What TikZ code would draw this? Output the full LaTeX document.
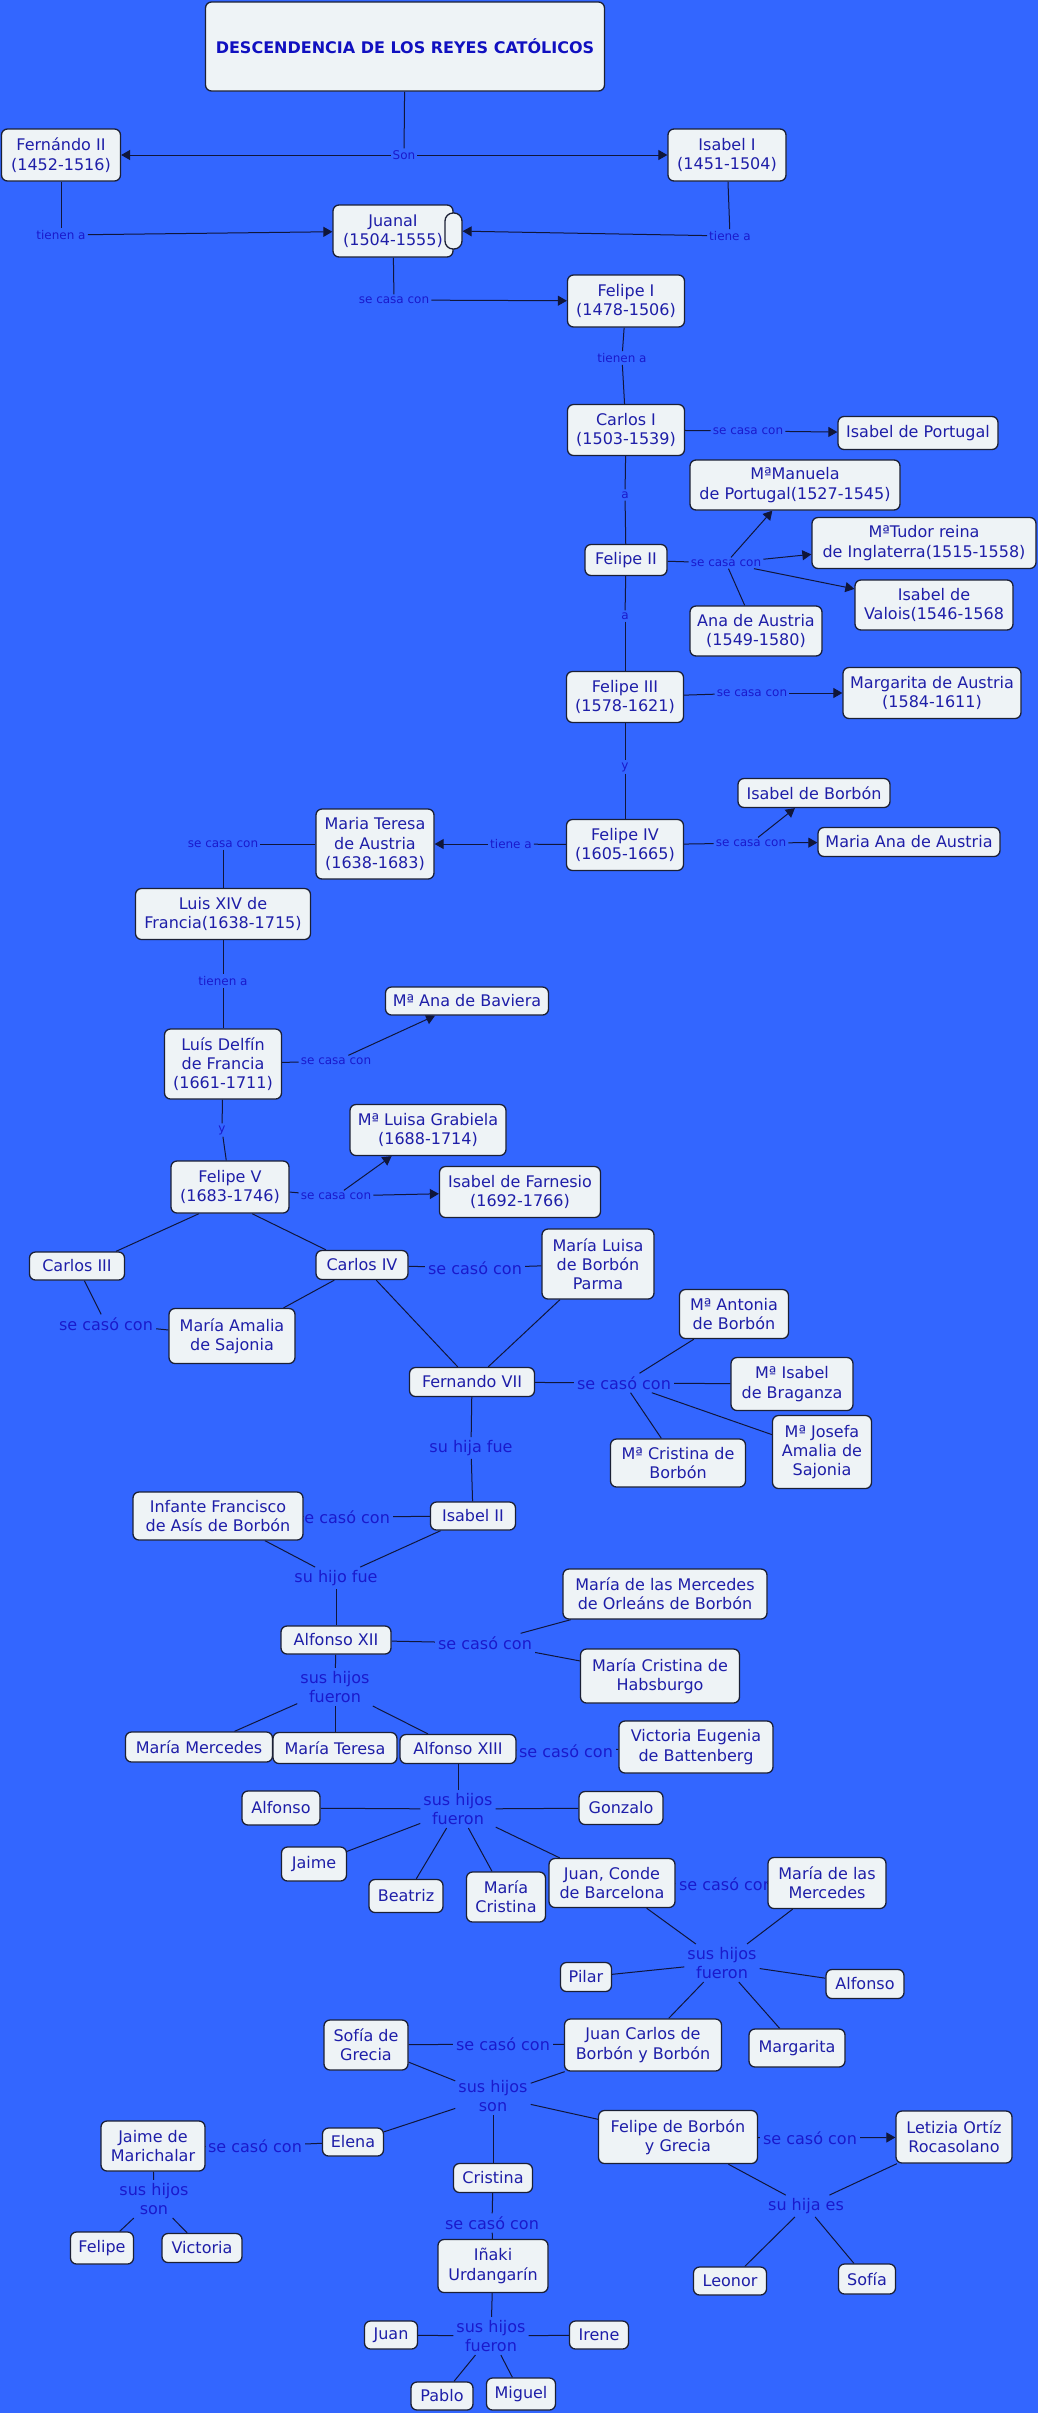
\documentclass[tikz,border=0pt]{standalone}
\usepackage{fontspec}
\setmainfont{DejaVu Sans}
\usetikzlibrary{arrows.meta}
\definecolor{bgc}{HTML}{3366FF}
\definecolor{nfill}{HTML}{EEF3F6}
\definecolor{nborder}{HTML}{1B2035}
\definecolor{ntext}{HTML}{1E1EA8}
\definecolor{ltext}{HTML}{1A1ACC}
\definecolor{ttext}{HTML}{1010C0}
\definecolor{lcol}{HTML}{10163A}
\newcommand\cmfont{\fontsize{16}{19.3}\selectfont}
\newcommand\cmsmall{\fontsize{12}{14}\selectfont}
\newcommand\cmtitle{\fontsize{16}{19}\selectfont\bfseries}
\pgfdeclarelayer{bglayer}
\pgfsetlayers{bglayer,main}
\tikzset{
  concept/.style={draw=nborder, line width=1.3pt, fill=nfill, rounded corners=6pt, text=ntext, font=\cmfont, align=center, inner sep=1pt},
  wh/.style 2 args={minimum width=#1, minimum height=#2},
  lb/.style={text=ltext, font=\cmfont, align=center, inner sep=3pt},
  sl/.style={text=ltext, font=\cmsmall, align=center, inner sep=2pt},
  ln/.style={draw=lcol, line width=1pt},
  ar/.style={ln, -{Triangle[length=9pt,width=10pt]}}
}
\begin{document}
\begin{tikzpicture}[x=1pt,y=-1pt]
\useasboundingbox (0,0) rectangle (1038,2413);
% ---------- concepts ----------
\node[concept, wh={399}{89}, font=\cmtitle, text=ttext] (title) at (405,46.5) {DESCENDENCIA DE LOS REYES CATÓLICOS};
\node[concept, wh={119}{52}] (fII) at (61,155) {Fernándo II\\(1452-1516)};
\node[concept, wh={118}{52}] (isI) at (727,155) {Isabel I\\(1451-1504)};
\node[concept, wh={120}{52}] (juana) at (393,231) {JuanaI\\(1504-1555)};
\node[concept, wh={17}{36}, rounded corners=8pt] (jtab) at (453.5,231) {};
\node[concept, wh={117}{52}] (felI) at (626,301) {Felipe I\\(1478-1506)};
\node[concept, wh={117}{51}] (carI) at (626,430) {Carlos I\\(1503-1539)};
\node[concept, wh={160}{33}] (isPor) at (918,433) {Isabel de Portugal};
\node[concept, wh={82}{31}] (felII) at (626,560) {Felipe II};
\node[concept, wh={210}{50}] (manuela) at (795,485) {MªManuela\\de Portugal(1527-1545)};
\node[concept, wh={224}{51}] (tudor) at (924,543) {MªTudor reina\\de Inglaterra(1515-1558)};
\node[concept, wh={158}{50}] (valois) at (934,605) {Isabel de\\Valois(1546-1568};
\node[concept, wh={132}{50}] (anaA) at (756,631) {Ana de Austria\\(1549-1580)};
\node[concept, wh={117}{51}] (felIII) at (625,697) {Felipe III\\(1578-1621)};
\node[concept, wh={178}{51}] (marg) at (932,693) {Margarita de Austria\\(1584-1611)};
\node[concept, wh={152}{29}] (isBor) at (814,793) {Isabel de Borbón};
\node[concept, wh={117}{51}] (felIV) at (625,845) {Felipe IV\\(1605-1665)};
\node[concept, wh={182}{29}] (mAna) at (909,842) {Maria Ana de Austria};
\node[concept, wh={118}{70}] (mTer) at (375,844) {Maria Teresa\\de Austria\\(1638-1683)};
\node[concept, wh={175}{51}] (luisXIV) at (223,914) {Luis XIV de\\Francia(1638-1715)};
\node[concept, wh={163}{28}] (baviera) at (467,1001) {Mª Ana de Baviera};
\node[concept, wh={117}{70}] (delfin) at (223,1064) {Luís Delfín\\de Francia\\(1661-1711)};
\node[concept, wh={156}{51}] (luisa) at (428,1130) {Mª Luisa Grabiela\\(1688-1714)};
\node[concept, wh={161}{51}] (farnesio) at (520,1192) {Isabel de Farnesio\\(1692-1766)};
\node[concept, wh={118}{52}] (felV) at (230,1187) {Felipe V\\(1683-1746)};
\node[concept, wh={95}{28}] (cIII) at (77,1266) {Carlos III};
\node[concept, wh={92}{29}] (cIV) at (362,1265) {Carlos IV};
\node[concept, wh={126}{55}] (amalia) at (232,1336) {María Amalia\\de Sajonia};
\node[concept, wh={112}{70}] (mLuisa) at (598,1264) {María Luisa\\de Borbón\\Parma};
\node[concept, wh={125}{29}] (fVII) at (472,1382) {Fernando VII};
\node[concept, wh={109}{49}] (antonia) at (734,1314) {Mª Antonia\\de Borbón};
\node[concept, wh={122}{53}] (braganza) at (792,1384) {Mª Isabel\\de Braganza};
\node[concept, wh={99}{73}] (josefa) at (822,1452) {Mª Josefa\\Amalia de\\Sajonia};
\node[concept, wh={135}{48}] (mCristina) at (678,1463) {Mª Cristina de\\Borbón};
\node[concept, wh={85}{28}] (isII) at (473,1516) {Isabel II};
\node[concept, wh={170}{48}] (infante) at (218,1516) {Infante Francisco\\de Asís de Borbón};
\node[concept, wh={204}{50}] (mercOrl) at (665,1594) {María de las Mercedes\\de Orleáns de Borbón};
\node[concept, wh={110}{28}] (aXII) at (336,1640) {Alfonso XII};
\node[concept, wh={159}{54}] (habs) at (660,1676) {María Cristina de\\Habsburgo};
\node[concept, wh={147}{30}] (mMerc) at (199,1747) {María Mercedes};
\node[concept, wh={124}{31}] (mTeresa) at (335,1748) {María Teresa};
\node[concept, wh={116}{29}] (aXIII) at (458,1749) {Alfonso XIII};
\node[concept, wh={154}{52}] (victE) at (696,1747) {Victoria Eugenia\\de Battenberg};
\node[concept, wh={78}{34}] (alfonso) at (281,1808) {Alfonso};
\node[concept, wh={84}{33}] (gonzalo) at (621,1808) {Gonzalo};
\node[concept, wh={65}{34}] (jaime) at (314,1864) {Jaime};
\node[concept, wh={74}{33}] (beatriz) at (406,1896) {Beatriz};
\node[concept, wh={79}{50}] (mCris2) at (506,1897) {María\\Cristina};
\node[concept, wh={126}{49}] (juanC) at (612,1883) {Juan, Conde\\de Barcelona};
\node[concept, wh={118}{51}] (merc2) at (827,1883) {María de las\\Mercedes};
\node[concept, wh={51}{29}] (pilar) at (586,1977) {Pilar};
\node[concept, wh={78}{29}] (alfonso2) at (865,1984) {Alfonso};
\node[concept, wh={157}{52}] (jCarlos) at (643,2045) {Juan Carlos de\\Borbón y Borbón};
\node[concept, wh={96}{38}] (margarita) at (797,2048) {Margarita};
\node[concept, wh={84}{50}] (sofia) at (366,2045) {Sofía de\\Grecia};
\node[concept, wh={61}{28}] (elena) at (353,2142) {Elena};
\node[concept, wh={79}{29}] (cristina) at (493,2178) {Cristina};
\node[concept, wh={159}{53}] (felipeB) at (678,2137) {Felipe de Borbón\\y Grecia};
\node[concept, wh={116}{52}] (letizia) at (954,2137) {Letizia Ortíz\\Rocasolano};
\node[concept, wh={73}{28}] (leonor) at (730,2281) {Leonor};
\node[concept, wh={57}{30}] (sofia2) at (867,2279) {Sofía};
\node[concept, wh={104}{50}] (jaimeM) at (153,2146) {Jaime de\\Marichalar};
\node[concept, wh={63}{32}] (felipe3) at (102,2248) {Felipe};
\node[concept, wh={80}{29}] (victoria) at (202,2248) {Victoria};
\node[concept, wh={110}{53}] (inaki) at (493,2266) {Iñaki\\Urdangarín};
\node[concept, wh={53}{28}] (juan) at (391,2335) {Juan};
\node[concept, wh={59}{28}] (irene) at (599,2335) {Irene};
\node[concept, wh={62}{28}] (pablo) at (442,2396) {Pablo};
\node[concept, wh={69}{32}] (miguel) at (521,2394) {Miguel};
\begin{pgfonlayer}{bglayer}
\fill[bgc] (0,0) rectangle (1038,2413);
% ---------- linking phrases ----------
\node[sl] (lSon) at (404,155) {Son};
\node[sl] (lFer) at (61,235) {tienen a};
\node[sl] (lIsa) at (730,236) {tiene a};
\node[sl] (lJua) at (394,300) {se casa con};
\node[sl] (lFel1) at (622,358) {tienen a};
\node[sl] (lCar1) at (748,431) {se casa con};
\node[sl] (lCar1a) at (625,495) {a};
\node[sl] (lFel2) at (726,563) {se casa con};
\node[sl] (lFel2a) at (625,616) {a};
\node[sl] (lFel3) at (752,693) {se casa con};
\node[sl] (lFel3y) at (625,767) {y};
\node[sl] (lFel4) at (751,843) {se casa con};
\node[sl] (lFel4t) at (511,844) {tiene a};
\node[sl] (lTer) at (223,844) {se casa con};
\node[sl] (lLuis) at (223,981) {tienen a};
\node[sl] (lDel) at (336,1061) {se casa con};
\node[sl] (lDely) at (222,1130) {y};
\node[sl] (lFel5) at (336,1196) {se casa con};
\node[lb] (lC3) at (106,1324) {se casó con};
\node[lb] (lC4) at (475,1268) {se casó con};
\node[lb] (lF7) at (624,1383) {se casó con};
\node[lb] (lF7h) at (471,1448) {su hija fue};
\node[lb] (lIs2) at (343,1517) {se casó con};
\node[lb] (lIs2h) at (336,1578) {su hijo fue};
\node[lb] (lA12) at (485,1643) {se casó con};
\node[lb] (lA12h) at (335,1687) {sus hijos\\fueron};
\node[lb] (lA13) at (566,1751) {se casó con};
\node[lb] (lA13h) at (458,1809) {sus hijos\\fueron};
\node[lb] (lJC) at (726,1884) {se casó con};
\node[lb] (lJCh) at (722,1963) {sus hijos\\fueron};
\node[lb] (lJCa) at (503,2044) {se casó con};
\node[lb] (lJCah) at (493,2096) {sus hijos\\son};
\node[lb] (lEl) at (255,2146) {se casó con};
\node[lb] (lJM) at (154,2199) {sus hijos\\son};
\node[lb] (lFB) at (810,2138) {se casó con};
\node[lb] (lFBh) at (806,2206) {su hija es};
\node[lb] (lCr) at (492,2223) {se casó con};
\node[lb] (lIn) at (491,2336) {sus hijos\\fueron};
% ---------- connectors ----------
\draw[ln] (title) -- (lSon);
\draw[ar] (lSon) -- (fII);
\draw[ar] (lSon) -- (isI);
\draw[ln] (fII) -- (lFer);
\draw[ar] (lFer) -- (juana);
\draw[ln] (isI) -- (lIsa);
\draw[ar] (lIsa) -- (jtab);
\draw[ln] (juana) -- (lJua);
\draw[ar] (lJua) -- (felI);
\draw[ln] (felI) -- (lFel1);
\draw[ln] (lFel1) -- (carI);
\draw[ln] (carI) -- (lCar1);
\draw[ar] (lCar1) -- (isPor);
\draw[ln] (carI) -- (lCar1a);
\draw[ln] (lCar1a) -- (felII);
\draw[ln] (felII) -- (lFel2);
\draw[ar] (lFel2) -- (manuela);
\draw[ar] (lFel2) -- (tudor);
\draw[ar] (lFel2) -- (valois);
\draw[ln] (lFel2) -- (anaA);
\draw[ln] (felII) -- (lFel2a);
\draw[ln] (lFel2a) -- (felIII);
\draw[ln] (felIII) -- (lFel3);
\draw[ar] (lFel3) -- (marg);
\draw[ln] (felIII) -- (lFel3y);
\draw[ln] (lFel3y) -- (felIV);
\draw[ln] (felIV) -- (lFel4);
\draw[ar] (lFel4) -- (isBor);
\draw[ar] (lFel4) -- (mAna);
\draw[ln] (felIV) -- (lFel4t);
\draw[ar] (lFel4t) -- (mTer);
\draw[ln] (mTer) -- (lTer);
\draw[ln] (lTer) -- (luisXIV);
\draw[ln] (luisXIV) -- (lLuis);
\draw[ln] (lLuis) -- (delfin);
\draw[ln] (delfin) -- (lDel);
\draw[ar] (lDel) -- (baviera);
\draw[ln] (delfin) -- (lDely);
\draw[ln] (lDely) -- (felV);
\draw[ln] (felV) -- (lFel5);
\draw[ar] (lFel5) -- (luisa);
\draw[ar] (lFel5) -- (farnesio);
\draw[ln] ([xshift=-31pt]felV.south) -- ([xshift=39pt]cIII.north);
\draw[ln] ([xshift=22pt]felV.south) -- ([xshift=-36pt]cIV.north);
\draw[ln] (cIII) -- (lC3);
\draw[ln] (lC3) -- (amalia);
\draw[ln] (cIV) -- (amalia);
\draw[ln] (cIV) -- (lC4);
\draw[ln] (lC4) -- (mLuisa);
\draw[ln] (cIV) -- (fVII);
\draw[ln] (mLuisa) -- (fVII);
\draw[ln] (fVII) -- (lF7);
\draw[ln] (lF7) -- (antonia);
\draw[ln] (lF7) -- (braganza);
\draw[ln] (lF7) -- (josefa);
\draw[ln] (lF7) -- (mCristina);
\draw[ln] (fVII) -- (lF7h);
\draw[ln] (lF7h) -- (isII);
\draw[ln] (isII) -- (lIs2);
\draw[ln] (lIs2) -- (infante);
\draw[ln] (infante) -- (lIs2h);
\draw[ln] (isII) -- (lIs2h);
\draw[ln] (lIs2h) -- (aXII);
\draw[ln] (aXII) -- (lA12);
\draw[ln] (lA12) -- (mercOrl);
\draw[ln] (lA12) -- (habs);
\draw[ln] (aXII) -- (lA12h);
\draw[ln] (lA12h) -- (mMerc);
\draw[ln] (lA12h) -- (mTeresa);
\draw[ln] (lA12h) -- (aXIII);
\draw[ln] (aXIII) -- (lA13);
\draw[ln] (lA13) -- (victE);
\draw[ln] (aXIII) -- (lA13h);
\draw[ln] (lA13h) -- (alfonso);
\draw[ln] (lA13h) -- (gonzalo);
\draw[ln] (lA13h) -- (jaime);
\draw[ln] (lA13h) -- (beatriz);
\draw[ln] (lA13h) -- (mCris2);
\draw[ln] (lA13h) -- (juanC);
\draw[ln] (juanC) -- (lJC);
\draw[ln] (lJC) -- (merc2);
\draw[ln] (juanC) -- (lJCh);
\draw[ln] (merc2) -- (lJCh);
\draw[ln] (lJCh) -- (pilar);
\draw[ln] (lJCh) -- (alfonso2);
\draw[ln] (lJCh) -- (jCarlos);
\draw[ln] (lJCh) -- (margarita);
\draw[ln] (sofia) -- (lJCa);
\draw[ln] (lJCa) -- (jCarlos);
\draw[ln] (sofia) -- (lJCah);
\draw[ln] (jCarlos) -- (lJCah);
\draw[ln] (lJCah) -- (elena);
\draw[ln] (lJCah) -- (cristina);
\draw[ln] (lJCah) -- (felipeB);
\draw[ln] (elena) -- (lEl);
\draw[ln] (lEl) -- (jaimeM);
\draw[ln] (jaimeM) -- (lJM);
\draw[ln] (lJM) -- (felipe3);
\draw[ln] (lJM) -- (victoria);
\draw[ln] (felipeB) -- (lFB);
\draw[ar] (lFB) -- (letizia);
\draw[ln] (felipeB) -- (lFBh);
\draw[ln] (letizia) -- (lFBh);
\draw[ln] (lFBh) -- (leonor);
\draw[ln] (lFBh) -- (sofia2);
\draw[ln] (cristina) -- (lCr);
\draw[ln] (lCr) -- (inaki);
\draw[ln] (inaki) -- (lIn);
\draw[ln] (lIn) -- (juan);
\draw[ln] (lIn) -- (irene);
\draw[ln] (lIn) -- (pablo);
\draw[ln] (lIn) -- (miguel);
\end{pgfonlayer}
\end{tikzpicture}
\end{document}
